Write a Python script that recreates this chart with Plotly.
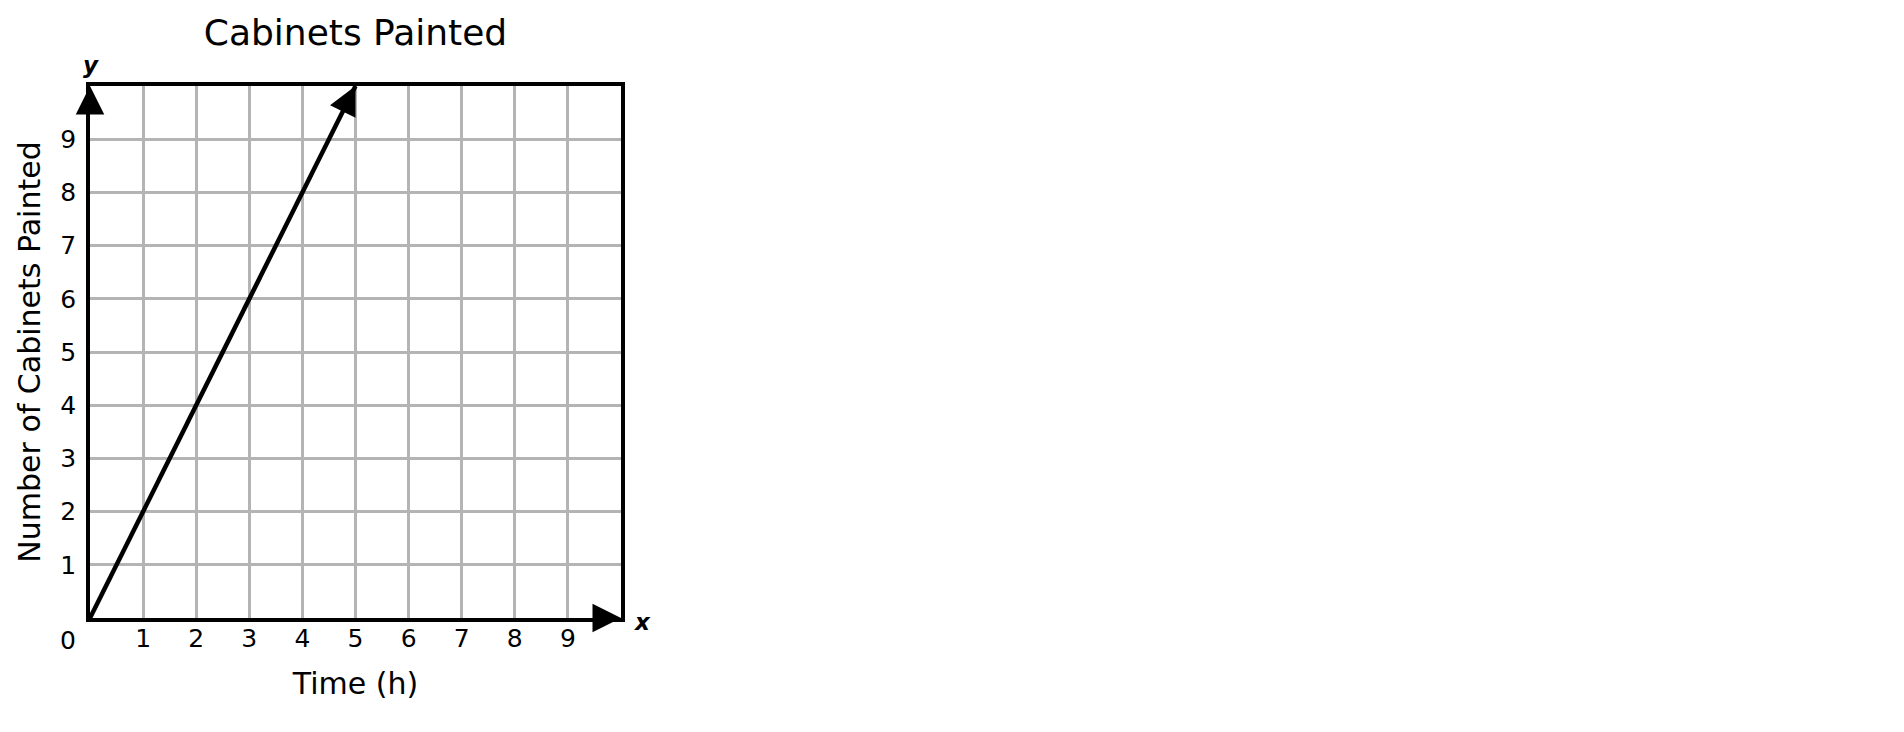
import plotly.graph_objects as go

# data
line_x = [0, 5]
line_y = [0, 10]
x_ticks = [1, 2, 3, 4, 5, 6, 7, 8, 9]
y_ticks = [1, 2, 3, 4, 5, 6, 7, 8, 9]
axis_max = 10

font = "DejaVu Sans"
grid = "#b4b4b4"

# page body has an 8px margin, so the figure is a bit smaller than the window
W, H = 1888, 716

fig = go.Figure()

fig.add_trace(go.Scatter(x=line_x, y=line_y, mode="lines",
                         line=dict(color="black", width=4.5),
                         hoverinfo="skip", showlegend=False))

arrow = dict(showarrow=True, text="", arrowhead=2, arrowsize=1.9,
             arrowwidth=3, arrowcolor="black", standoff=0,
             xref="x", yref="y", axref="x", ayref="y")

# arrow at end of data line
fig.add_annotation(x=line_x[-1], y=line_y[-1],
                   ax=line_x[-1] - 0.25, ay=line_y[-1] - 0.5, **arrow)
# axis arrows
fig.add_annotation(x=0, y=axis_max, ax=0, ay=axis_max - 0.5, **arrow)
fig.add_annotation(x=axis_max, y=0, ax=axis_max - 0.5, ay=0, **arrow)

# labels on the axes
fig.add_annotation(x=0, y=axis_max, xref="x", yref="y", text="<b><i>y</i></b>",
                   showarrow=False, yshift=21, xshift=1,
                   font=dict(family=font, size=23, color="black"))
fig.add_annotation(x=axis_max, y=0, xref="x", yref="y", text="<b><i>x</i></b>",
                   showarrow=False, xshift=21, yshift=-4,
                   font=dict(family=font, size=23, color="black"))
fig.add_annotation(x=0, y=0, xref="x", yref="y", text="0",
                   showarrow=False, xshift=-22, yshift=-22,
                   font=dict(family=font, size=25, color="black"))

fig.update_layout(
    width=W, height=H,
    margin=dict(l=82, r=W - 613, t=78, b=H - 610),
    paper_bgcolor="white", plot_bgcolor="white",
    font=dict(family=font, size=25, color="black"),
    title=dict(text="Cabinets Painted", x=0.5, xref="paper",
               y=1 - 24 / H, yref="container", yanchor="middle",
               font=dict(family=font, size=36, color="black")),
    xaxis=dict(range=[0, axis_max], tickvals=x_ticks, showgrid=True,
               gridcolor=grid, gridwidth=3, zeroline=False,
               showline=True, linecolor="black", linewidth=3.5, mirror=True,
               ticks="", ticklabelstandoff=-5,
               title=dict(text="Time (h)", standoff=22,
                          font=dict(family=font, size=30)),
               fixedrange=True),
    yaxis=dict(range=[0, axis_max], tickvals=y_ticks, showgrid=True,
               gridcolor=grid, gridwidth=3, zeroline=False,
               showline=True, linecolor="black", linewidth=3.5, mirror=True,
               ticks="outside", ticklen=5, tickcolor="rgba(0,0,0,0)",
               title=dict(text="Number of Cabinets Painted", standoff=12,
                          font=dict(family=font, size=30)),
               fixedrange=True),
)

fig.write_html("out.html")
